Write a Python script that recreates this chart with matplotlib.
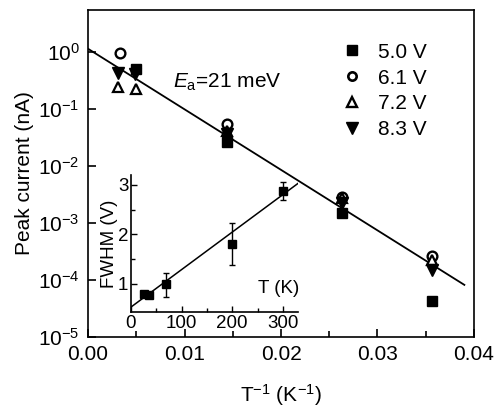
import numpy as np
import matplotlib
matplotlib.use("Agg")
import matplotlib.pyplot as plt
from matplotlib.ticker import FixedLocator, FuncFormatter, MultipleLocator
from matplotlib.lines import Line2D

plt.rcParams['font.family'] = ['Liberation Sans', 'DejaVu Sans']
plt.rcParams['mathtext.fontset'] = 'custom'
plt.rcParams['mathtext.rm'] = 'Liberation Sans'
plt.rcParams['mathtext.it'] = 'Liberation Sans:italic'
plt.rcParams['mathtext.default'] = 'regular'

# ---- data (main plot) ----
x_50 = [0.0050, 0.0144, 0.0263, 0.0356]
y_50 = [0.49, 0.026, 0.00147, 4.3e-5]
x_61 = [0.0033, 0.0144, 0.0263, 0.0356]
y_61 = [0.96, 0.054, 0.0029, 2.6e-4]
x_72 = [0.0031, 0.0050, 0.0144, 0.0263, 0.0356]
y_72 = [0.24, 0.22, 0.041, 0.0027, 2.2e-4]
x_83 = [0.0031, 0.0049, 0.0144, 0.0263, 0.0356]
y_83 = [0.43, 0.40, 0.036, 0.0022, 1.5e-4]
fit_x = [0.0, 0.039]
fit_y = [1.13, 8.2e-5]
labels = ["5.0 V", "6.1 V", "7.2 V", "8.3 V"]
xticks = [0.00, 0.01, 0.02, 0.03, 0.04]
yticks = [1e-5, 1e-4, 1e-3, 1e-2, 1e-1, 1e0]

# ---- data (inset) ----
T_in = [26, 36, 70, 200, 300]
fwhm = [0.80, 0.78, 0.99, 1.81, 2.87]
err_lo = [0.0, 0.0, 0.26, 0.42, 0.18]
err_hi = [0.0, 0.0, 0.22, 0.41, 0.18]
ifit_x = [0, 330]
ifit_y = [0.53, 3.03]

FS = 15
IFS = 13.5

fig = plt.figure(figsize=(4.96, 4.11), dpi=100)
ax = fig.add_axes([88/496, 1-337/411, (474-88)/496, (337-10)/411])

lw = 1.2
ax.plot(fit_x, fit_y, color='black', lw=1.3, zorder=2)
ms = 7.5
ax.plot(x_50, y_50, 's', color='black', ms=ms, ls='none', zorder=3)
ax.plot(x_61, y_61, 'o', mfc='none', mec='black', mew=1.7, ms=ms-0.5, ls='none', zorder=3)
ax.plot(x_72, y_72, '^', mfc='white', mec='black', mew=1.6, ms=ms, ls='none', zorder=3)
ax.plot(x_83, y_83, 'v', color='black', ms=ms+0.5, ls='none', zorder=3)

ax.set_yscale('log')
ax.set_xlim(0, 0.04)
ax.set_ylim(1e-5, 5.4)
ax.xaxis.set_major_locator(FixedLocator(xticks))
ax.xaxis.set_minor_locator(MultipleLocator(0.005))
ax.xaxis.set_major_formatter(FuncFormatter(lambda v, p: f"{v:.2f}"))
ax.yaxis.set_major_locator(FixedLocator(yticks))
ax.yaxis.set_minor_locator(FixedLocator([]))
ax.yaxis.set_major_formatter(FuncFormatter(lambda v, p: r"10$^{\mathregular{%d}}$" % int(round(np.log10(v)))))
ax.tick_params(which='both', direction='in', top=False, right=False, labelsize=FS, width=lw)
ax.tick_params(which='major', length=6, pad=6)
ax.tick_params(which='minor', length=4)
for s in ax.spines.values():
    s.set_linewidth(lw)

ax.set_xlabel(r"T$^{\mathregular{-1}}$ (K$^{\mathregular{-1}}$)", fontsize=FS, labelpad=13)
ax.set_ylabel("Peak current (nA)", fontsize=FS, labelpad=3)

ax.text(0.22, 0.78, r"$\mathit{E}_{\mathregular{a}}$=21 meV", transform=ax.transAxes,
        fontsize=FS, va='center', ha='left')

handles = [
    Line2D([], [], marker='s', color='black', ls='none', ms=ms),
    Line2D([], [], marker='o', mfc='none', mec='black', mew=1.9, ls='none', ms=ms-1.5),
    Line2D([], [], marker='^', mfc='white', mec='black', mew=1.7, ls='none', ms=ms),
    Line2D([], [], marker='v', color='black', ls='none', ms=ms+0.5),
]
ax.legend(handles, labels, loc='upper left', bbox_to_anchor=(0.656, 0.9), frameon=False,
          fontsize=FS, handlelength=1.0, handletextpad=0.75, labelspacing=0.33,
          borderaxespad=0, borderpad=0)

# ---- inset ----
ia = fig.add_axes([131/496, 1-312/411, (298-131)/496, (312-175)/411])
ia.patch.set_alpha(0)
ia.plot(ifit_x, ifit_y, color='black', lw=1.1, zorder=2)
ia.errorbar(T_in, fwhm, yerr=[err_lo, err_hi], fmt='s', color='black', ms=6,
            capsize=2.5, elinewidth=1.0, capthick=1.0, zorder=3)
ia.set_xlim(0, 330)
ia.set_ylim(0.43, 3.2)
ia.spines['top'].set_visible(False)
ia.spines['right'].set_visible(False)
for s in ['left', 'bottom']:
    ia.spines[s].set_linewidth(lw)
ia.xaxis.set_major_locator(FixedLocator([0, 100, 200, 300]))
ia.xaxis.set_minor_locator(FixedLocator([50, 150, 250]))
ia.yaxis.set_major_locator(FixedLocator([1, 2, 3]))
ia.yaxis.set_minor_locator(FixedLocator([1.5, 2.5]))
ia.tick_params(which='both', direction='in', labelsize=IFS, width=1.0, pad=2)
ia.tick_params(which='major', length=4)
ia.tick_params(which='minor', length=3)
ia.set_ylabel("FWHM (V)", fontsize=IFS, labelpad=0)
ia.text(1.01, 0.17, "T (K)", transform=ia.transAxes, ha='right', va='center', fontsize=IFS)

fig.savefig("out.png", dpi=100)
